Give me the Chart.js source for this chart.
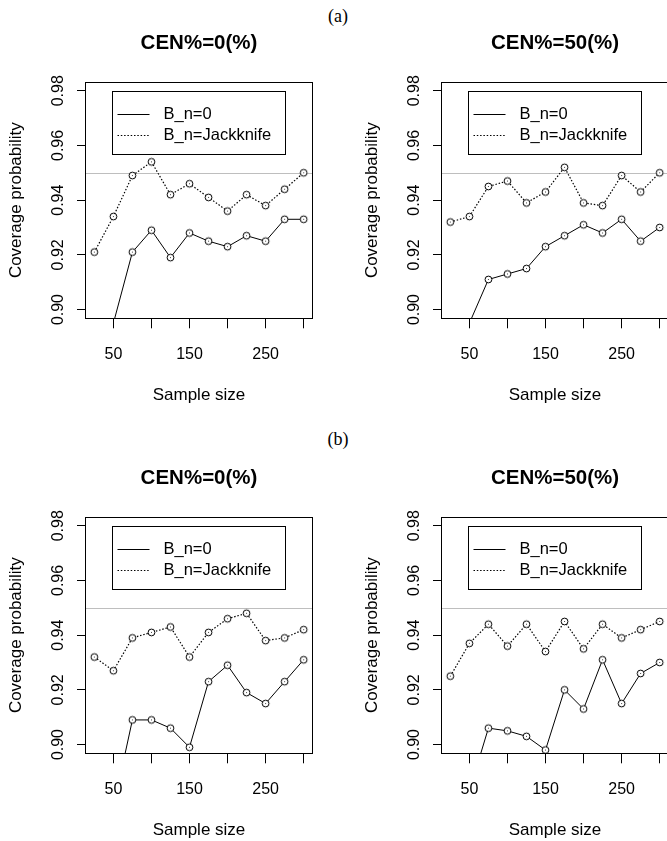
<!DOCTYPE html>
<html>
<head>
<meta charset="UTF-8">
<title>Coverage probability</title>
<script src="https://cdn.jsdelivr.net/npm/chart.js"></script>
<style>
  html, body { margin: 0; padding: 0; background: #fff; overflow: hidden; }
  body { width: 667px; height: 841px; position: relative; }
  canvas { position: absolute; }
  .tag {
    position: absolute; width: 60px; text-align: center; line-height: 20px;
    font-family: 'Liberation Serif', 'Times New Roman', serif; font-size: 18px; color: #000;
  }
</style>
</head>
<body>
<div class="tag" style="left:308px; top:6px">(a)</div>
<div class="tag" style="left:308px; top:429px">(b)</div>
<canvas id="a0" width="333" height="420" style="left:0; top:0"></canvas>
<canvas id="a50" width="333" height="420" style="left:356px; top:0"></canvas>
<canvas id="b0" width="333" height="420" style="left:0; top:435px"></canvas>
<canvas id="b50" width="333" height="420" style="left:356px; top:435px"></canvas>

<script>
    // x values and axis ticks
    const sampleSizes = [25, 50, 75, 100, 125, 150, 175, 200, 225, 250, 275, 300];
    const xTicks = [50, 100, 150, 200, 250, 300];
    const xLabels = [50, 150, 250];
    const yTicks = [0.90, 0.92, 0.94, 0.96, 0.98];
    const xLim = [25, 300];
    const yLim = [0.90, 0.98];
    const nominal = 0.95;
    const seriesNames = ['B_n=0', 'B_n=Jackknife'];

    // (a) CEN%=0 and CEN%=50 (first value of B_n=0 is off the plot)
    const zeroA0 = [null, 0.895, 0.921, 0.929, 0.919, 0.928, 0.925, 0.923, 0.927, 0.925, 0.933, 0.933];
    const jackA0 = [0.921, 0.934, 0.949, 0.954, 0.942, 0.946, 0.941, 0.936, 0.942, 0.938, 0.944, 0.950];
    const zeroA50 = [null, 0.895, 0.911, 0.913, 0.915, 0.923, 0.927, 0.931, 0.928, 0.933, 0.925, 0.930];
    const jackA50 = [0.932, 0.934, 0.945, 0.947, 0.939, 0.943, 0.952, 0.939, 0.938, 0.949, 0.943, 0.950];

    // (b)
    const zeroB0 = [null, 0.877, 0.909, 0.909, 0.906, 0.899, 0.923, 0.929, 0.919, 0.915, 0.923, 0.931];
    const jackB0 = [0.932, 0.927, 0.939, 0.941, 0.943, 0.932, 0.941, 0.946, 0.948, 0.938, 0.939, 0.942];
    const zeroB50 = [null, 0.883, 0.906, 0.905, 0.903, 0.898, 0.920, 0.913, 0.931, 0.915, 0.926, 0.930];
    const jackB50 = [0.925, 0.937, 0.944, 0.936, 0.944, 0.934, 0.945, 0.935, 0.944, 0.939, 0.942, 0.945];

    // R style 4% axis extension
    const ext = ([lo, hi]) => [lo - 0.04 * (hi - lo), hi + 0.04 * (hi - lo)];
    const xRange = ext(xLim);
    const yRange = ext(yLim);
    const legendAt = [50, 0.98];
    const dotted = [1.5, 1.8];

    Chart.defaults.font.family = "'Liberation Sans', Arial, sans-serif";
    Chart.defaults.color = '#000';

    // open circle like pch=1
    function ring() {
        const c = document.createElement('canvas');
        c.width = c.height = 11;
        const g = c.getContext('2d');
        g.beginPath();
        g.arc(5.5, 5.5, 3.4, 0, Math.PI * 2);
        g.fillStyle = '#fff';
        g.fill();
        g.lineWidth = 1;
        g.strokeStyle = '#000';
        g.stroke();
        g.fillStyle = '#444';
        g.fillRect(5, 5, 1, 1);
        return c;
    }
    const dot = ring();

    const frame = {
        id: 'frame',
        beforeDatasetsDraw(chart) {
            const { ctx, chartArea: a, scales: { y } } = chart;
            const py = Math.round(y.getPixelForValue(nominal)) + 0.5;
            ctx.save();
            ctx.strokeStyle = '#bebebe';
            ctx.lineWidth = 1;
            ctx.beginPath();
            ctx.moveTo(a.left, py);
            ctx.lineTo(a.right, py);
            ctx.stroke();
            ctx.restore();
        },
        afterDraw(chart) {
            const { ctx, chartArea: a, scales: { x, y } } = chart;
            ctx.save();
            ctx.strokeStyle = '#000';
            ctx.lineWidth = 1;
            ctx.strokeRect(Math.round(a.left) - 0.5, Math.round(a.top) + 0.5,
                Math.round(a.right - a.left) + 1, Math.round(a.bottom - a.top));
            // legend box
            const lx = Math.round(x.getPixelForValue(legendAt[0])) - 0.5;
            const ly = Math.round(y.getPixelForValue(legendAt[1])) + 0.5;
            ctx.fillStyle = '#fff';
            ctx.fillRect(lx, ly, 173, 63);
            ctx.strokeRect(lx, ly, 173, 63);
            ctx.font = "16.5px 'Liberation Sans', Arial, sans-serif";
            ctx.textBaseline = 'middle';
            ctx.fillStyle = '#000';
            chart.data.datasets.forEach((ds, i) => {
                const rowY = Math.round(ly + 22 + i * 21.7) + 0.5;
                ctx.setLineDash(ds.borderDash || []);
                ctx.beginPath();
                ctx.moveTo(lx + 5, rowY);
                ctx.lineTo(lx + 37, rowY);
                ctx.stroke();
                ctx.setLineDash([]);
                ctx.fillText(ds.label, lx + 51, rowY);
            });
            ctx.restore();
        }
    };

    function makePanel(id, title, zero, jack) {
        const pts = vals => sampleSizes.map((s, i) => ({ x: s, y: vals[i] }));
        const line = {
            borderColor: '#000', borderWidth: 1, tension: 0, fill: false,
            pointStyle: dot, pointRadius: 3.5, clip: 0
        };
        return new Chart(document.getElementById(id), {
            type: 'line',
            data: {
                datasets: [
                    { ...line, label: seriesNames[0], data: pts(zero) },
                    { ...line, label: seriesNames[1], data: pts(jack), borderDash: dotted, borderWidth: 1.2 }
                ]
            },
            options: {
                responsive: false,
                animation: false,
                devicePixelRatio: 1,
                layout: { padding: { top: 0, right: 21, bottom: 0, left: 0 } },
                plugins: {
                    legend: { display: false },
                    tooltip: { enabled: false },
                    title: {
                        display: true, text: title, fullSize: false, color: '#000',
                        font: { size: 20.5, weight: 'bold' },
                        padding: { top: 30.7, bottom: 26.7 }
                    }
                },
                scales: {
                    x: {
                        type: 'linear', min: xRange[0], max: xRange[1],
                        afterFit(s) { s.height = 101.7; },
                        afterBuildTicks(s) { s.ticks = xTicks.map(v => ({ value: v })); },
                        grid: { drawOnChartArea: false, tickLength: 10, color: '#000', lineWidth: 1 },
                        border: { display: false },
                        ticks: {
                            autoSkip: false, maxRotation: 0, padding: 16.3,
                            font: { size: 16 }, color: '#000',
                            callback: v => xLabels.includes(v) ? String(v) : ''
                        },
                        title: {
                            display: true, text: 'Sample size', color: '#000',
                            font: { size: 17 }, padding: { top: 0, bottom: 14.8 }
                        }
                    },
                    y: {
                        type: 'linear', min: yRange[0], max: yRange[1],
                        afterFit(s) { s.width = 86; },
                        afterBuildTicks(s) { s.ticks = yTicks.map(v => ({ value: v })); },
                        grid: { drawOnChartArea: false, tickLength: 9, color: '#000', lineWidth: 1 },
                        border: { display: false },
                        ticks: {
                            minRotation: 90, maxRotation: 90, crossAlign: 'center', padding: 3,
                            font: { size: 16 }, color: '#000',
                            callback: v => v.toFixed(2)
                        },
                        title: {
                            display: true, text: 'Coverage probability', color: '#000',
                            font: { size: 17 }, padding: { top: 6.5, bottom: 0 }
                        }
                    }
                }
            },
            plugins: [frame]
        });
    }

    makePanel('a0', 'CEN%=0(%)', zeroA0, jackA0);
    makePanel('a50', 'CEN%=50(%)', zeroA50, jackA50);
    makePanel('b0', 'CEN%=0(%)', zeroB0, jackB0);
    makePanel('b50', 'CEN%=50(%)', zeroB50, jackB50);
</script>
</body>
</html>
